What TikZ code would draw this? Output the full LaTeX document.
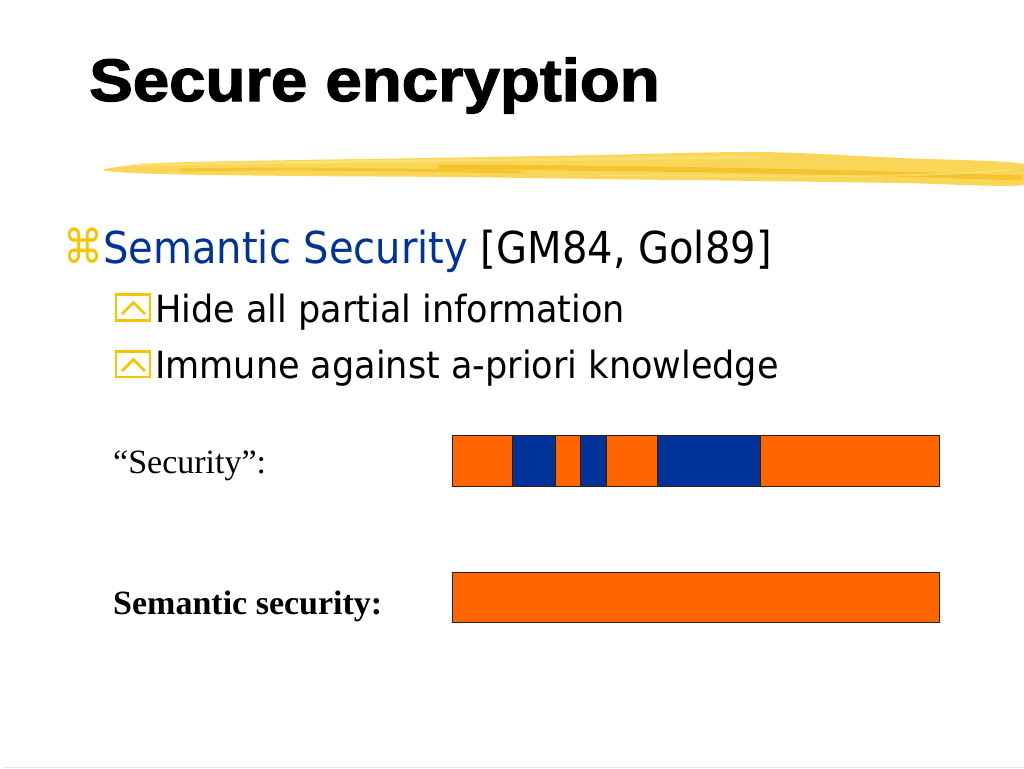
\documentclass[tikz,border=0pt]{standalone}
\usepackage{fontspec}
\setmainfont{Liberation Serif}
\newfontfamily\titlefont[FakeBold=2]{Liberation Sans}
\newfontfamily\tahomafont{DejaVu Sans}
\definecolor{semblue}{RGB}{0,51,153}
\definecolor{barorange}{RGB}{255,102,0}
\definecolor{barblue}{RGB}{0,51,153}
\definecolor{goldy}{RGB}{247,196,0}
\definecolor{strokebase}{RGB}{249,210,70}
\definecolor{strokedark}{RGB}{240,180,10}
\definecolor{strokelight}{RGB}{252,226,120}
\tikzset{
  txt/.style={anchor=base west, inner sep=0pt},
  segline/.style={draw={rgb,255:red,50;green,30;blue,10}, line width=0.8pt},
  orangeseg/.style={fill=barorange, segline},
  blueseg/.style={fill=barblue, segline},
  ybox/.style={draw=goldy, line width=2.6pt, fill=white},
  ychev/.style={draw=goldy, line width=2.6pt, line join=miter},
}
\begin{document}
\begin{tikzpicture}[x=1pt,y=-1pt]
\useasboundingbox (0,0) rectangle (1024,768);
\fill[white] (0,0) rectangle (1024,768);
% brush stroke
\fill[strokebase, opacity=0.9] plot[smooth cycle, tension=0.5] coordinates {(103,170) (160,163) (300,160) (430,158) (600,155) (760,152) (900,158) (1024,164) (1024,185) (900,183) (760,181) (600,179) (450,177) (300,176) (160,174)};
\draw[strokedark, line width=5pt, opacity=0.55, line cap=round] (440,167) .. controls (650,168) and (850,172) .. (1020,178);
\draw[strokedark, line width=3pt, opacity=0.45, line cap=round] (180,170) .. controls (300,168) and (400,170) .. (520,172);
\draw[strokelight, line width=3pt, opacity=0.7, line cap=round] (140,165) .. controls (300,162) and (500,160) .. (760,157);
\draw[strokelight, line width=2pt, opacity=0.6, line cap=round] (600,175) .. controls (750,176) and (900,179) .. (1010,170);
% title
\node[txt, font=\titlefont\bfseries\fontsize{60}{60}\selectfont] (title) at (89,101) {\scalebox{1.09}[1]{Secure encryption}};
% main bullet
\node[txt, text=goldy, font=\tahomafont\fontsize{47}{47}\selectfont] (cmd) at (63,263) {\scalebox{0.85}[1]{⌘}};
\node[txt, font=\tahomafont\fontsize{44}{44}\selectfont] (sem) at (103,263) {\scalebox{0.91}[1]{\textcolor{semblue}{Semantic Security} [GM84, Gol89]}};
% sub bullets
\draw[ybox] (116,294.5) rectangle (150,320.5);
\draw[ychev] (122,314) -- (133.5,302.5) -- (145,314);
\node[txt, font=\tahomafont\fontsize{37.5}{37.5}\selectfont] (hide) at (155,322) {\scalebox{0.935}[1]{Hide all partial information}};
\draw[ybox] (116,351.5) rectangle (150,377);
\draw[ychev] (122,371) -- (133.5,359.5) -- (145,371);
\node[txt, font=\tahomafont\fontsize{37.5}{37.5}\selectfont] (immune) at (155,378) {\scalebox{0.935}[1]{Immune against a-priori knowledge}};
% labels
\node[txt, font=\fontsize{34}{34}\selectfont] (seclab) at (113,473) {``Security'':};
\node[txt, font=\bfseries\fontsize{34}{34}\selectfont] (semlab) at (113,614) {Semantic security:};
% bar 1
\path[orangeseg] (452,435) rectangle (512,486);
\path[blueseg] (512,435) rectangle (555,486);
\path[orangeseg] (555,435) rectangle (580,486);
\path[blueseg] (580,435) rectangle (606,486);
\path[orangeseg] (606,435) rectangle (657,486);
\path[blueseg] (657,435) rectangle (760,486);
\path[orangeseg] (760,435) rectangle (939,486);
% bar 2
\path[orangeseg] (452,572) rectangle (939,622);
% bottom rule
\draw[black!10, line width=1pt] (4,767) -- (1024,767);
\end{tikzpicture}
\end{document}
